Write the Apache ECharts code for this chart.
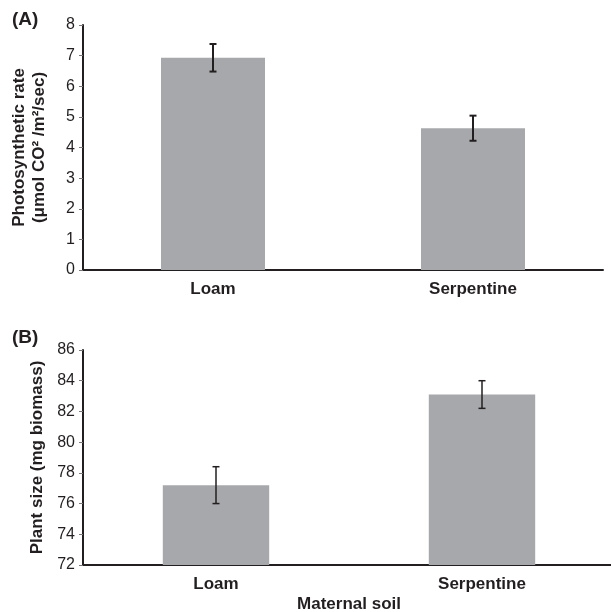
<!DOCTYPE html>
<html>
<head>
<meta charset="utf-8">
<script src="https://cdn.jsdelivr.net/npm/echarts@6/dist/echarts.min.js"></script>
<style>html,body{margin:0;padding:0;background:#fff}#c{width:611px;height:612px}</style>
</head>
<body>
<div id="c"></div>
<script>
const categories = ['Loam', 'Serpentine'];
const photoMean = [6.93, 4.63];
const photoErr = [0.45, 0.41];
const sizeMean = [77.2, 83.1];
const sizeErr = [1.2, 0.9];
const photoTicks = {min: 0, max: 8, interval: 1};
const sizeTicks = {min: 72, max: 86, interval: 2};

const ink = '#231f20';
const barColor = '#a7a8ab';
const font = 'Liberation Sans, Arial, sans-serif';

function errData(means, errs) {
  return means.map((m, i) => [i, m - errs[i], m + errs[i]]);
}
function errRender(lw) {
  return function (params, api) {
    const x = api.value(0);
    const lo = api.coord([x, api.value(1)]);
    const hi = api.coord([x, api.value(2)]);
    const cap = 3.5;
    const style = {stroke: ink, lineWidth: lw};
    return {type: 'group', children: [
      {type: 'line', shape: {x1: lo[0], y1: lo[1], x2: hi[0], y2: hi[1]}, style},
      {type: 'line', shape: {x1: lo[0] - cap, y1: lo[1], x2: lo[0] + cap, y2: lo[1]}, style},
      {type: 'line', shape: {x1: hi[0] - cap, y1: hi[1], x2: hi[0] + cap, y2: hi[1]}, style}
    ]};
  };
}

const axisLine = {lineStyle: {color: ink, width: 2}};
const catLabel = {color: ink, fontSize: 17, fontWeight: 'bold', margin: 11, fontFamily: font};
const valLabel = {color: ink, fontSize: 16, margin: 8, fontFamily: font};
const nameStyle = {color: ink, fontSize: 17, fontWeight: 'bold', fontFamily: font};
const chart = echarts.init(document.getElementById('c'));
chart.setOption({
  animation: false,
  textStyle: {fontFamily: font},
  title: [
    {text: '(A)', left: 7, top: 5, textStyle: {fontSize: 19, fontWeight: 'bold', color: ink, fontFamily: font}},
    {text: '(B)', left: 7, top: 323, textStyle: {fontSize: 19, fontWeight: 'bold', color: ink, fontFamily: font}}
  ],
  grid: [
    {left: 83, top: 25, width: 520, height: 245, outerBoundsMode: 'none', containLabel: false},
    {left: 83, top: 350, width: 532, height: 215, outerBoundsMode: 'none', containLabel: false}
  ],
  xAxis: [
    {type: 'category', gridIndex: 0, data: categories, axisLine,
     axisTick: {length: 4, lineStyle: {color: '#777', width: 1}},
     axisLabel: catLabel},
    {type: 'category', gridIndex: 1, data: categories, axisLine,
     axisTick: {length: 4, lineStyle: {color: '#777', width: 1}},
     axisLabel: catLabel,
     name: 'Maternal soil', nameLocation: 'middle', nameGap: 31,
     nameTextStyle: nameStyle}
  ],
  yAxis: [
    {type: 'value', gridIndex: 0, min: photoTicks.min, max: photoTicks.max, interval: photoTicks.interval,
     axisLine: {show: true, lineStyle: {color: ink, width: 2}},
     axisTick: {show: true, length: 4, lineStyle: {color: '#777', width: 1}},
     splitLine: {show: false},
     axisLabel: valLabel,
     name: 'Photosynthetic rate\n(μmol CO² /m²/sec)', nameLocation: 'middle', nameGap: 34,
     nameTextStyle: Object.assign({lineHeight: 20}, nameStyle)},
    {type: 'value', gridIndex: 1, min: sizeTicks.min, max: sizeTicks.max, interval: sizeTicks.interval,
     axisLine: {show: true, lineStyle: {color: ink, width: 2}},
     axisTick: {show: true, length: 4, lineStyle: {color: '#777', width: 1}},
     splitLine: {show: false},
     axisLabel: valLabel,
     name: 'Plant size (mg biomass)', nameLocation: 'middle', nameGap: 35,
     nameTextStyle: nameStyle}
  ],
  series: [
    {type: 'bar', xAxisIndex: 0, yAxisIndex: 0, data: photoMean, barWidth: '40%',
     itemStyle: {color: barColor}},
    {type: 'custom', xAxisIndex: 0, yAxisIndex: 0, data: errData(photoMean, photoErr),
     renderItem: errRender(2), z: 10},
    {type: 'bar', xAxisIndex: 1, yAxisIndex: 1, data: sizeMean, barWidth: '40%',
     itemStyle: {color: barColor}},
    {type: 'custom', xAxisIndex: 1, yAxisIndex: 1, data: errData(sizeMean, sizeErr),
     renderItem: errRender(1.5), z: 10}
  ]
});
</script>
</body>
</html>
